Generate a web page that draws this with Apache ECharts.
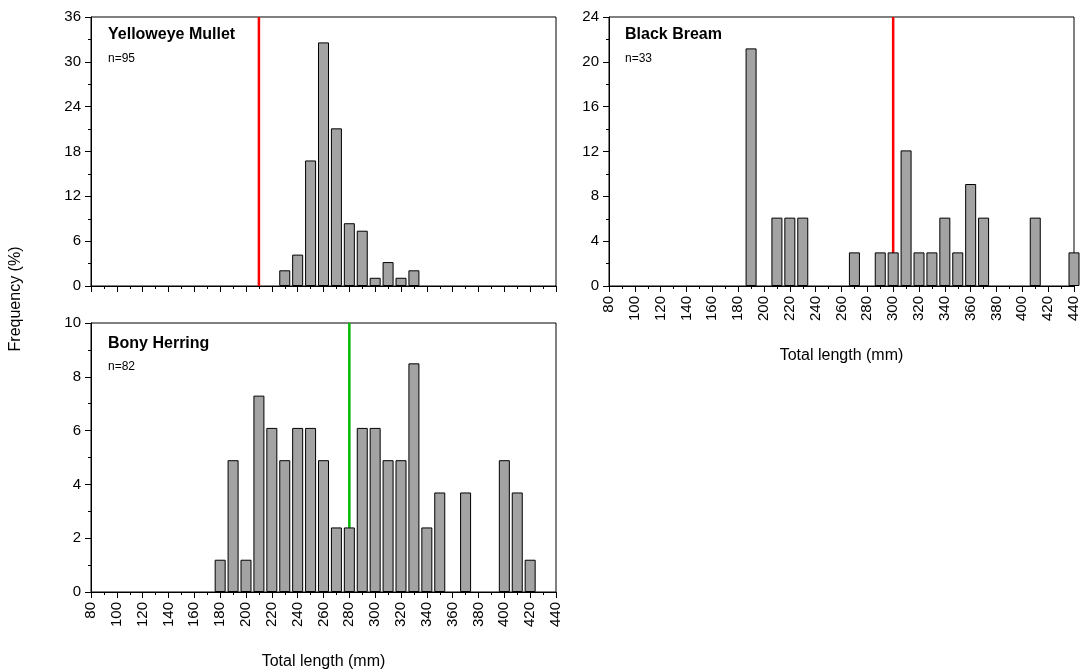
<!DOCTYPE html>
<html><head><meta charset="utf-8">
<script src="https://cdn.jsdelivr.net/npm/echarts@6/dist/echarts.min.js"></script>
<style>html,body{margin:0;padding:0;background:#fff}#c{width:1082px;height:671px}</style>
</head><body><div id="c"></div>
<script>
// Yelloweye Mullet
const mulletLength = [230, 240, 250, 260, 270, 280, 290, 300, 310, 320, 330];
const mulletFreq   = [2.1, 4.2, 16.8, 32.6, 21.1, 8.4, 7.4, 1.1, 3.2, 1.1, 2.1];
const mulletMedian = 210;
// Black Bream
const breamLength = [190, 210, 220, 230, 270, 290, 300, 310, 320, 330, 340, 350, 360, 370, 410, 440];
const breamFreq   = [21.2, 6.1, 6.1, 6.1, 3.0, 3.0, 3.0, 12.1, 3.0, 3.0, 6.1, 3.0, 9.1, 6.1, 6.1, 3.0];
const breamMedian = 300;
// Bony Herring
const herringLength = [180, 190, 200, 210, 220, 230, 240, 250, 260, 270, 280, 290, 300, 310, 320, 330, 340, 350, 370, 400, 410, 420];
const herringFreq   = [1.2, 4.9, 1.2, 7.3, 6.1, 4.9, 6.1, 6.1, 4.9, 2.4, 2.4, 6.1, 6.1, 4.9, 4.9, 8.5, 2.4, 3.7, 3.7, 4.9, 3.7, 1.2];
const herringMedian = 280;

const panelTitles = ['Yelloweye Mullet', 'Black Bream', 'Bony Herring'];
const panelN = ['n=95', 'n=33', 'n=82'];
const yMax = [36, 24, 10];
const yStep = [6, 4, 2];
const xMin = 80, xMax = 440, xStep = 20;
const xName = 'Total length (mm)';
const yName = 'Frequency (%)';

const FONT = '"Liberation Sans", Arial, sans-serif';
const chart = echarts.init(document.getElementById('c'));

const grids = [
  {left: 91, top: 17, width: 465, height: 269},
  {left: 609, top: 17, width: 465, height: 269},
  {left: 91, top: 323, width: 465, height: 270}
];
const lengths = [mulletLength, breamLength, herringLength];
const freqs = [mulletFreq, breamFreq, herringFreq];
const medians = [mulletMedian, breamMedian, herringMedian];
const medianColors = ['#ff0000', '#ff0000', '#00bb00'];
const showXLabels = [false, true, true];

const xAxes = grids.map((g, i) => ({
  type: 'value', gridIndex: i, min: xMin, max: xMax, interval: xStep,
  name: showXLabels[i] ? xName : '', nameLocation: 'middle', nameGap: 62,
  nameTextStyle: {fontFamily: FONT, fontSize: 16, color: '#000'},
  axisLine: {show: true, lineStyle: {color: '#000', width: 1}},
  axisTick: {show: true, length: 6, lineStyle: {color: '#000'}},
  minorTick: {show: true, splitNumber: 2, length: 3, lineStyle: {color: '#000'}},
  splitLine: {show: false},
  axisLabel: {show: showXLabels[i], rotate: 90, margin: 10, fontSize: 15, fontFamily: FONT, color: '#000'}
}));
const yAxes = grids.map((g, i) => ({
  type: 'value', gridIndex: i, min: 0, max: yMax[i], interval: yStep[i],
  axisLine: {show: true, lineStyle: {color: '#000', width: 1}},
  axisTick: {show: true, length: 6, lineStyle: {color: '#000'}},
  minorTick: {show: true, splitNumber: 2, length: 3, lineStyle: {color: '#000'}},
  splitLine: {show: false},
  axisLabel: {margin: 10, fontSize: 15, fontFamily: FONT, color: '#000'}
}));

const series = [];
grids.forEach((g, i) => {
  series.push({
    type: 'line', xAxisIndex: i, yAxisIndex: i, z: 1,
    data: [[medians[i], 0], [medians[i], yMax[i]]],
    symbol: 'none', lineStyle: {color: medianColors[i], width: 2.5}, silent: true
  });
  series.push({
    type: 'bar', xAxisIndex: i, yAxisIndex: i, z: 2, barWidth: 11, clip: true,
    data: lengths[i].map((x, k) => [x, freqs[i][k]]),
    itemStyle: {color: '#a3a3a3', borderColor: '#000', borderWidth: 1}
  });
});

const titlePos = [[108, 36, 60], [625, 36, 60], [108, 345, 368]];
const graphics = [];
titlePos.forEach((p, i) => {
  graphics.push({type: 'text', left: p[0], top: p[1] - 9,
    style: {text: panelTitles[i], font: 'bold 16px ' + FONT, fill: '#000'}});
  graphics.push({type: 'text', left: p[0], top: p[2] - 7,
    style: {text: panelN[i], font: '12px ' + FONT, fill: '#000'}});
});
graphics.push({type: 'text', x: 16, y: 299, rotation: Math.PI / 2,
  style: {text: yName, font: '16px ' + FONT, fill: '#000', align: 'center', verticalAlign: 'middle'}});

chart.setOption({
  backgroundColor: '#fff',
  animation: false,
  grid: grids.map(g => Object.assign({show: true, borderColor: '#000', borderWidth: 1, backgroundColor: 'transparent'}, g)),
  xAxis: xAxes,
  yAxis: yAxes,
  series: series,
  graphic: graphics
});
</script></body></html>
